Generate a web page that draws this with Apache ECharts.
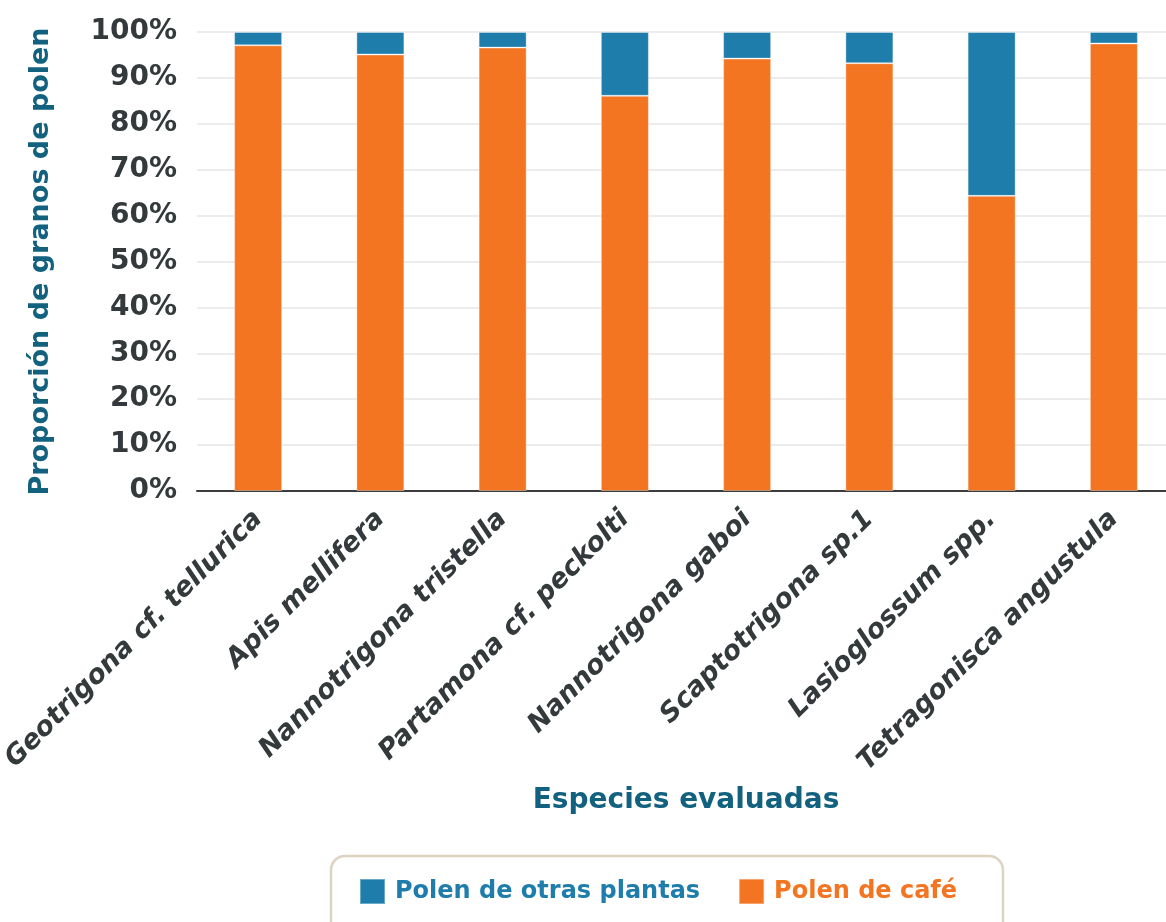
<!DOCTYPE html>
<html>
<head>
<meta charset="utf-8">
<style>
  html, body { margin: 0; padding: 0; background: #ffffff; }
  #chart { width: 1166px; height: 922px; }
</style>
<script src="https://cdn.jsdelivr.net/npm/echarts@6/dist/echarts.min.js"></script>
</head>
<body>
<div id="chart"></div>
<script>
// Bee species sampled
const species = [
  'Geotrigona cf. tellurica',
  'Apis mellifera',
  'Nannotrigona tristella',
  'Partamona cf. peckolti',
  'Nannotrigona gaboi',
  'Scaptotrigona sp.1',
  'Lasioglossum spp.',
  'Tetragonisca angustula'
];
// Share of coffee pollen grains (%)
const cafe = [97.1, 95.1, 96.6, 86.1, 94.2, 93.2, 64.3, 97.5];
// Share of pollen from other plants (%)
const otras = [2.9, 4.9, 3.4, 13.9, 5.8, 6.8, 35.7, 2.5];
const yTicks = ['0%', '10%', '20%', '30%', '40%', '50%', '60%', '70%', '80%', '90%', '100%'];

const FONT = '"DejaVu Sans", "Open Sans", sans-serif';
const ORANGE = '#f37421';
const BLUE = '#1e7dab';
const TEAL = '#12617f';
const GREY = '#343a3c';

const chart = echarts.init(document.getElementById('chart'), null, { renderer: 'canvas' });

chart.setOption({
  backgroundColor: '#ffffff',
  animation: false,
  textStyle: { fontFamily: FONT },
  grid: {
    left: 197, top: 32, width: 978, height: 459,
    containLabel: false,
    outerBoundsMode: 'none'
  },
  legend: {
    left: 354,
    top: 873,
    itemWidth: 25,
    itemHeight: 25,
    itemGap: 38,
    icon: 'rect',
    textStyle: { fontFamily: FONT, fontWeight: 'bold', fontSize: 24, padding: [0, 0, 0, 5] },
    data: [
      { name: 'Polen de otras plantas', textStyle: { color: BLUE } },
      { name: 'Polen de café', textStyle: { color: ORANGE } }
    ]
  },
  graphic: [{
    type: 'rect',
    shape: { x: 331, y: 856, width: 672, height: 84, r: 14 },
    style: { fill: 'none', stroke: '#ddd3c1', lineWidth: 2.5 },
    silent: true
  }],
  xAxis: {
    type: 'category',
    data: species,
    name: 'Especies evaluadas',
    nameLocation: 'middle',
    nameGap: 296,
    nameTextStyle: { color: TEAL, fontFamily: FONT, fontWeight: 'bold', fontSize: 28 },
    axisLine: { lineStyle: { color: '#3c3c3c', width: 2 } },
    axisTick: { show: false },
    axisLabel: {
      interval: 0,
      rotate: 45,
      margin: 24,
      color: GREY,
      fontFamily: FONT,
      fontStyle: 'italic',
      fontWeight: 'bold',
      fontSize: 27
    }
  },
  yAxis: {
    type: 'value',
    min: 0,
    max: 100,
    interval: 10,
    name: 'Proporción de granos de polen',
    nameLocation: 'middle',
    nameGap: 143,
    nameTextStyle: { color: TEAL, fontFamily: FONT, fontWeight: 'bold', fontSize: 27 },
    axisLine: { show: false },
    axisTick: { show: false },
    axisLabel: {
      margin: 20,
      color: GREY,
      fontFamily: FONT,
      fontWeight: 'bold',
      fontSize: 28,
      formatter: (v) => yTicks[Math.round(v / 10)]
    },
    splitLine: { lineStyle: { color: '#e6e6e6', width: 1.5 } }
  },
  series: [
    {
      name: 'Polen de café',
      type: 'bar',
      stack: 'total',
      barWidth: 48,
      data: cafe,
      itemStyle: { color: ORANGE, borderColor: 'rgba(255,255,255,0.35)', borderWidth: 1 }
    },
    {
      name: 'Polen de otras plantas',
      type: 'bar',
      stack: 'total',
      barWidth: 48,
      data: otras,
      itemStyle: { color: BLUE, borderColor: 'rgba(255,255,255,0.35)', borderWidth: 1 }
    }
  ]
});
</script>
</body>
</html>
